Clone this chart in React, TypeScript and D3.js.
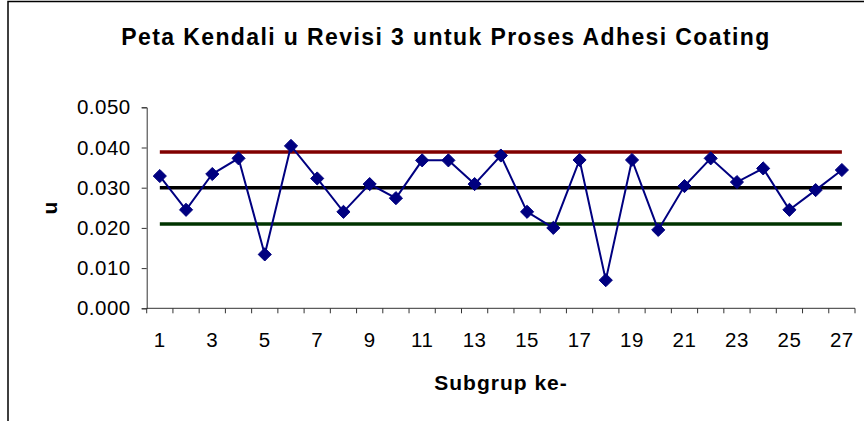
import React, { useEffect, useRef } from "react";
import * as d3 from "d3";

// subgroup numbers and u values
const subgroups = d3.range(1, 28);
const uValues = [
  0.0329, 0.0245, 0.0334, 0.0373, 0.0134, 0.0404, 0.0323, 0.024, 0.0309,
  0.0274, 0.0368, 0.0368, 0.0309, 0.038, 0.024, 0.02, 0.0369, 0.007, 0.0369,
  0.0195, 0.0304, 0.0373, 0.0314, 0.0348, 0.0245, 0.0294, 0.0344,
];
const yTicks = [0, 0.01, 0.02, 0.03, 0.04, 0.05];
const xTickLabels = subgroups.filter((d) => d % 2 === 1);
const limitNames = ["UCL", "CL", "LCL"];
const limitValues = [0.0389, 0.03, 0.021];
const limitColors = ["#800000", "#000000", "#003300"];

const font = "Arial, 'Liberation Sans', sans-serif";

const App = () => {
  const ref = useRef<SVGSVGElement>(null);

  useEffect(() => {
    document.body.style.margin = "0";
    var svg = d3.select(ref.current);
    svg.selectAll("*").remove();

    var left = 146.7;
    var right = 855;
    var top = 107.3;
    var bottom = 308.3;

    var x = d3
      .scaleBand<number>()
      .domain(subgroups)
      .range([left, right]);
    var y = d3.scaleLinear().domain([0, 0.05]).range([bottom, top]);
    var cx = (d: number) => (x(d) as number) + x.bandwidth() / 2;

    // chart frame
    svg
      .append("rect")
      .attr("x", 8)
      .attr("y", 1.5)
      .attr("width", 900)
      .attr("height", 460)
      .attr("fill", "white")
      .attr("stroke", "black")
      .attr("stroke-width", 1.5);

    // title
    svg
      .append("text")
      .attr("x", 446)
      .attr("y", 45)
      .attr("text-anchor", "middle")
      .attr("font-family", font)
      .attr("font-weight", "bold")
      .attr("font-size", 23)
      .attr("letter-spacing", 1.4)
      .text("Peta Kendali u Revisi 3 untuk Proses Adhesi Coating");

    // y axis
    var yAxis = svg.append("g").attr("transform", `translate(${left},0)`);
    yAxis
      .call(
        d3
          .axisLeft(y)
          .tickValues(yTicks)
          .tickFormat(d3.format(".3f"))
          .tickSize(5)
          .tickPadding(11)
      )
      .call((g) => g.select(".domain").attr("stroke", "#333"));
    yAxis
      .selectAll("text")
      .attr("font-family", font)
      .attr("font-size", 20.5)
      .attr("letter-spacing", 0.5)
      .attr("fill", "black");
    yAxis.selectAll("line").attr("stroke", "#333");

    // x axis: tick marks on category boundaries
    var xAxis = svg.append("g");
    xAxis
      .append("line")
      .attr("x1", left)
      .attr("x2", right)
      .attr("y1", bottom)
      .attr("y2", bottom)
      .attr("stroke", "#333");
    xAxis
      .selectAll("line.tick")
      .data(subgroups.concat([28]))
      .enter()
      .append("line")
      .classed("tick", true)
      .attr("x1", (d) => left + (d - 1) * x.step())
      .attr("x2", (d) => left + (d - 1) * x.step())
      .attr("y1", bottom)
      .attr("y2", bottom + 5)
      .attr("stroke", "#333");
    xAxis
      .selectAll("text")
      .data(xTickLabels)
      .enter()
      .append("text")
      .attr("x", (d) => cx(d))
      .attr("y", 347)
      .attr("text-anchor", "middle")
      .attr("font-family", font)
      .attr("font-size", 20.5)
      .attr("letter-spacing", 0.5)
      .text((d) => d);

    // axis titles
    svg
      .append("text")
      .attr("x", 501)
      .attr("y", 390)
      .attr("text-anchor", "middle")
      .attr("font-family", font)
      .attr("font-weight", "bold")
      .attr("font-size", 21)
      .attr("letter-spacing", 1)
      .text("Subgrup ke-");
    svg
      .append("text")
      .attr("transform", "translate(57,208) rotate(-90)")
      .attr("text-anchor", "middle")
      .attr("font-family", font)
      .attr("font-weight", "bold")
      .attr("font-size", 21)
      .text("u");

    // control limits
    svg
      .selectAll("line.limit")
      .data(limitNames)
      .enter()
      .append("line")
      .classed("limit", true)
      .attr("x1", cx(subgroups[0]))
      .attr("x2", cx(subgroups[subgroups.length - 1]))
      .attr("y1", (d, i) => y(limitValues[i]))
      .attr("y2", (d, i) => y(limitValues[i]))
      .attr("stroke", (d, i) => limitColors[i])
      .attr("stroke-width", 3.5);

    // u series
    var line = d3
      .line<number>()
      .x((d, i) => cx(subgroups[i]))
      .y((d) => y(d));
    svg
      .append("path")
      .datum(uValues)
      .attr("d", line)
      .attr("fill", "none")
      .attr("stroke", "#000080")
      .attr("stroke-width", 2);

    var diamond = d3.symbol().type(d3.symbolDiamond2).size(110);
    svg
      .selectAll("path.marker")
      .data(uValues)
      .enter()
      .append("path")
      .classed("marker", true)
      .attr("d", diamond)
      .attr("transform", (d, i) => `translate(${cx(subgroups[i])},${y(d)})`)
      .attr("fill", "#000080")
      .attr("stroke", "#000080")
      .attr("stroke-width", 1);
  }, []);

  return <svg ref={ref} width={864} height={421} style={{ display: "block" }} />;
};

export default App;
